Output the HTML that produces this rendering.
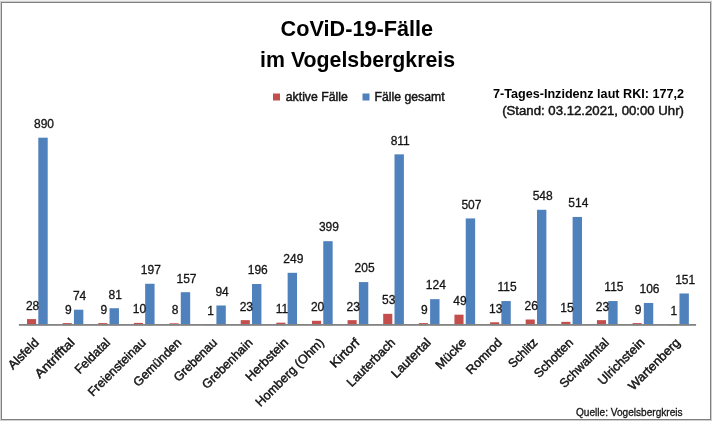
<!DOCTYPE html>
<html lang="de"><head><meta charset="utf-8"><title>CoViD-19-Fälle im Vogelsbergkreis</title>
<style>
html,body{margin:0;padding:0;background:#fff;}
body{width:712px;height:421px;overflow:hidden;font-family:"Liberation Sans",sans-serif;}
svg{display:block;}
text{font-family:"Liberation Sans",sans-serif;fill:#141414;stroke:#141414;stroke-width:0.45px;}
.t{font-weight:bold;font-size:22px;fill:#000;stroke:none;}
.d{font-size:12px;text-anchor:middle;stroke-width:0.3px;}
.c{font-size:12.5px;text-anchor:end;}
.l{font-size:12.2px;}
.b{font-size:12.2px;font-weight:bold;fill:#000;stroke:none;}
.q{font-size:10.6px;stroke-width:0.3px;}
</style></head><body>
<svg width="712" height="421" viewBox="0 0 712 421">
<rect x="0" y="0" width="712" height="421" fill="#cfcfcf"/>
<rect x="0" y="0" width="712" height="1" fill="#efefef"/>
<rect x="1" y="2" width="710" height="418" fill="#808080"/>
<rect x="2" y="3" width="708" height="416" fill="#fff"/>

<text class="t" x="356.85" y="36.4" text-anchor="middle" textLength="152.5" lengthAdjust="spacingAndGlyphs">CoViD-19-Fälle</text>
<text class="t" x="357.6" y="66.8" text-anchor="middle" textLength="195" lengthAdjust="spacingAndGlyphs">im Vogelsbergkreis</text>
<rect x="273" y="93.5" width="7" height="7" fill="#c34e4c"/>
<text class="l" x="285.8" y="101" textLength="62" lengthAdjust="spacingAndGlyphs">aktive Fälle</text>
<rect x="362.5" y="93.5" width="7" height="7" fill="#4f81bd"/>
<text class="l" x="374.6" y="101" textLength="70" lengthAdjust="spacingAndGlyphs">Fälle gesamt</text>
<text class="b" x="493" y="98" textLength="191" lengthAdjust="spacingAndGlyphs">7-Tages-Inzidenz laut RKI: 177,2</text>
<text class="l" x="502.2" y="114.6" textLength="181.8" lengthAdjust="spacingAndGlyphs">(Stand: 03.12.2021, 00:00 Uhr)</text>
<text class="q" x="576" y="415.8" textLength="106.6" lengthAdjust="spacingAndGlyphs">Quelle: Vogelsbergkreis</text>
<rect x="27.00" y="319.10" width="9.1" height="6.20" fill="#c34e4c"/>
<rect x="38.30" y="137.69" width="9.4" height="187.61" fill="#4f81bd"/>
<text class="d" x="32.60" y="309.70">28</text>
<text class="d" x="44.00" y="127.99">890</text>
<text class="c" transform="translate(39.71,343.30) rotate(-45)" x="0" y="0" textLength="37.8" lengthAdjust="spacingAndGlyphs">Alsfeld</text>
<rect x="62.62" y="323.10" width="9.1" height="2.20" fill="#c34e4c"/>
<rect x="73.92" y="309.70" width="9.4" height="15.60" fill="#4f81bd"/>
<text class="d" x="68.22" y="313.70">9</text>
<text class="d" x="79.62" y="300.00">74</text>
<text class="c" transform="translate(75.33,343.30) rotate(-45)" x="0" y="0" textLength="50.3" lengthAdjust="spacingAndGlyphs">Antrifftal</text>
<rect x="98.24" y="323.10" width="9.1" height="2.20" fill="#c34e4c"/>
<rect x="109.54" y="308.23" width="9.4" height="17.07" fill="#4f81bd"/>
<text class="d" x="103.84" y="313.70">9</text>
<text class="d" x="115.24" y="298.53">81</text>
<text class="c" transform="translate(110.95,343.30) rotate(-45)" x="0" y="0" textLength="44.3" lengthAdjust="spacingAndGlyphs">Feldatal</text>
<rect x="133.86" y="322.89" width="9.1" height="2.41" fill="#c34e4c"/>
<rect x="145.16" y="283.77" width="9.4" height="41.53" fill="#4f81bd"/>
<text class="d" x="139.46" y="313.49">10</text>
<text class="d" x="150.86" y="274.07">197</text>
<text class="c" transform="translate(146.57,343.30) rotate(-45)" x="0" y="0" textLength="75.9" lengthAdjust="spacingAndGlyphs">Freiensteinau</text>
<rect x="169.48" y="323.31" width="9.1" height="1.99" fill="#c34e4c"/>
<rect x="180.78" y="292.20" width="9.4" height="33.10" fill="#4f81bd"/>
<text class="d" x="175.08" y="313.91">8</text>
<text class="d" x="186.48" y="282.50">157</text>
<text class="c" transform="translate(182.19,343.30) rotate(-45)" x="0" y="0" textLength="62.0" lengthAdjust="spacingAndGlyphs">Gemünden</text>
<rect x="205.10" y="324.79" width="9.1" height="0.51" fill="#c34e4c"/>
<rect x="216.40" y="305.48" width="9.4" height="19.82" fill="#4f81bd"/>
<text class="d" x="210.70" y="315.39">1</text>
<text class="d" x="222.10" y="295.78">94</text>
<text class="c" transform="translate(217.81,343.30) rotate(-45)" x="0" y="0" textLength="55.2" lengthAdjust="spacingAndGlyphs">Grebenau</text>
<rect x="240.72" y="320.15" width="9.1" height="5.15" fill="#c34e4c"/>
<rect x="252.02" y="283.98" width="9.4" height="41.32" fill="#4f81bd"/>
<text class="d" x="246.32" y="310.75">23</text>
<text class="d" x="257.72" y="274.28">196</text>
<text class="c" transform="translate(253.43,343.30) rotate(-45)" x="0" y="0" textLength="65.5" lengthAdjust="spacingAndGlyphs">Grebenhain</text>
<rect x="276.34" y="322.68" width="9.1" height="2.62" fill="#c34e4c"/>
<rect x="287.64" y="272.81" width="9.4" height="52.49" fill="#4f81bd"/>
<text class="d" x="281.94" y="313.28">11</text>
<text class="d" x="293.34" y="263.11">249</text>
<text class="c" transform="translate(289.05,343.30) rotate(-45)" x="0" y="0" textLength="54.4" lengthAdjust="spacingAndGlyphs">Herbstein</text>
<rect x="311.96" y="320.78" width="9.1" height="4.52" fill="#c34e4c"/>
<rect x="323.26" y="241.19" width="9.4" height="84.11" fill="#4f81bd"/>
<text class="d" x="317.56" y="311.38">20</text>
<text class="d" x="328.96" y="231.49">399</text>
<text class="c" transform="translate(324.67,343.30) rotate(-45)" x="0" y="0" textLength="90.6" lengthAdjust="spacingAndGlyphs">Homberg (Ohm)</text>
<rect x="347.58" y="320.15" width="9.1" height="5.15" fill="#c34e4c"/>
<rect x="358.88" y="282.09" width="9.4" height="43.21" fill="#4f81bd"/>
<text class="d" x="353.18" y="310.75">23</text>
<text class="d" x="364.58" y="272.39">205</text>
<text class="c" transform="translate(360.29,343.30) rotate(-45)" x="0" y="0" textLength="35.8" lengthAdjust="spacingAndGlyphs">Kirtorf</text>
<rect x="383.20" y="313.83" width="9.1" height="11.47" fill="#c34e4c"/>
<rect x="394.50" y="154.34" width="9.4" height="170.96" fill="#4f81bd"/>
<text class="d" x="388.80" y="304.43">53</text>
<text class="d" x="400.20" y="144.64">811</text>
<text class="c" transform="translate(395.91,343.30) rotate(-45)" x="0" y="0" textLength="62.4" lengthAdjust="spacingAndGlyphs">Lauterbach</text>
<rect x="418.82" y="323.10" width="9.1" height="2.20" fill="#c34e4c"/>
<rect x="430.12" y="299.16" width="9.4" height="26.14" fill="#4f81bd"/>
<text class="d" x="424.42" y="313.70">9</text>
<text class="d" x="435.82" y="289.46">124</text>
<text class="c" transform="translate(431.53,343.30) rotate(-45)" x="0" y="0" textLength="50.0" lengthAdjust="spacingAndGlyphs">Lautertal</text>
<rect x="454.44" y="314.67" width="9.1" height="10.63" fill="#c34e4c"/>
<rect x="465.74" y="218.42" width="9.4" height="106.88" fill="#4f81bd"/>
<text class="d" x="460.04" y="305.27">49</text>
<text class="d" x="471.44" y="208.72">507</text>
<text class="c" transform="translate(467.15,343.30) rotate(-45)" x="0" y="0" textLength="37.8" lengthAdjust="spacingAndGlyphs">Mücke</text>
<rect x="490.06" y="322.26" width="9.1" height="3.04" fill="#c34e4c"/>
<rect x="501.36" y="301.06" width="9.4" height="24.24" fill="#4f81bd"/>
<text class="d" x="495.66" y="312.86">13</text>
<text class="d" x="507.06" y="291.36">115</text>
<text class="c" transform="translate(502.77,343.30) rotate(-45)" x="0" y="0" textLength="44.8" lengthAdjust="spacingAndGlyphs">Romrod</text>
<rect x="525.68" y="319.52" width="9.1" height="5.78" fill="#c34e4c"/>
<rect x="536.98" y="209.78" width="9.4" height="115.52" fill="#4f81bd"/>
<text class="d" x="531.28" y="310.12">26</text>
<text class="d" x="542.68" y="200.08">548</text>
<text class="c" transform="translate(538.39,343.30) rotate(-45)" x="0" y="0" textLength="35.6" lengthAdjust="spacingAndGlyphs">Schlitz</text>
<rect x="561.30" y="321.84" width="9.1" height="3.46" fill="#c34e4c"/>
<rect x="572.60" y="216.95" width="9.4" height="108.35" fill="#4f81bd"/>
<text class="d" x="566.90" y="312.44">15</text>
<text class="d" x="578.30" y="207.25">514</text>
<text class="c" transform="translate(574.01,343.30) rotate(-45)" x="0" y="0" textLength="49.7" lengthAdjust="spacingAndGlyphs">Schotten</text>
<rect x="596.92" y="320.15" width="9.1" height="5.15" fill="#c34e4c"/>
<rect x="608.22" y="301.06" width="9.4" height="24.24" fill="#4f81bd"/>
<text class="d" x="602.52" y="310.75">23</text>
<text class="d" x="613.92" y="291.36">115</text>
<text class="c" transform="translate(609.63,343.30) rotate(-45)" x="0" y="0" textLength="64.0" lengthAdjust="spacingAndGlyphs">Schwalmtal</text>
<rect x="632.54" y="323.10" width="9.1" height="2.20" fill="#c34e4c"/>
<rect x="643.84" y="302.96" width="9.4" height="22.34" fill="#4f81bd"/>
<text class="d" x="638.14" y="313.70">9</text>
<text class="d" x="649.54" y="293.26">106</text>
<text class="c" transform="translate(645.25,343.30) rotate(-45)" x="0" y="0" textLength="59.9" lengthAdjust="spacingAndGlyphs">Ulrichstein</text>
<rect x="668.16" y="324.79" width="9.1" height="0.51" fill="#c34e4c"/>
<rect x="679.46" y="293.47" width="9.4" height="31.83" fill="#4f81bd"/>
<text class="d" x="673.76" y="315.39">1</text>
<text class="d" x="685.16" y="283.77">151</text>
<text class="c" transform="translate(680.87,343.30) rotate(-45)" x="0" y="0" textLength="67.4" lengthAdjust="spacingAndGlyphs">Wartenberg</text>
<rect x="18.900000000000002" y="324.0" width="677.18" height="1.8" fill="#838383"/>
</svg></body></html>
